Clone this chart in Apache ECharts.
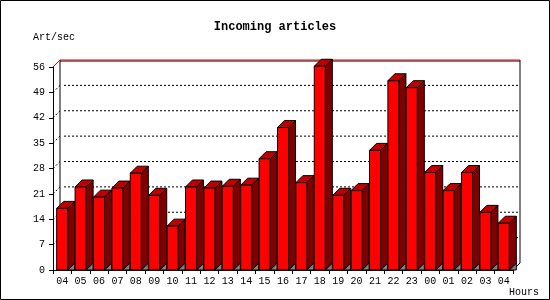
<!DOCTYPE html>
<html>
<head>
<meta charset="utf-8">
<script src="https://cdn.jsdelivr.net/npm/echarts@6/dist/echarts.min.js"></script>
<style>html,body{margin:0;padding:0;background:#fff}#c{width:550px;height:300px}</style>
</head>
<body>
<div id="c"></div>
<script>
const hours = ['04','05','06','07','08','09','10','11','12','13','14','15','16','17','18','19','20','21','22','23','00','01','02','03','04'];
const artPerSec = [17.0,22.9,20.1,22.6,26.7,20.6,12.1,22.9,22.6,23.1,23.4,30.7,39.3,24.1,56.2,20.6,21.9,33.0,52.2,50.3,26.9,21.9,26.9,15.9,12.9];
const yTicks = [0,7,14,21,28,35,42,49,56];

const D = 7; // 3D depth offset (px)
const FONT = 'Liberation Mono';

function wallItem(params, api) {
  const v = api.value(1);
  const band = api.size([1, 0])[0];
  const p0 = api.coord([0, v]);
  const pN = api.coord([hours.length - 1, v]);
  const xs = p0[0] - band / 2, xe = pN[0] + band / 2, y = p0[1];
  const top0 = api.coord([0, yTicks[yTicks.length - 1]]);
  const children = [];
  if (v > 0 && v < yTicks[yTicks.length - 1]) {
    children.push({type: 'line', shape: {x1: xs + D + 4, y1: y - D, x2: xe + D, y2: y - D},
      style: {stroke: '#000', lineWidth: 1, lineDash: [2, 2]}});
    children.push({type: 'line', shape: {x1: xs, y1: y, x2: xs + D, y2: y - D},
      style: {stroke: '#000', lineWidth: 1, lineDash: [2, 2]}});
  } else if (v > 0) {
    children.push({type: 'line', shape: {x1: xs + D, y1: y - D + 1, x2: xe + D, y2: y - D + 1},
      style: {stroke: '#000', lineWidth: 1}});
    children.push({type: 'line', shape: {x1: xs + D, y1: y - D, x2: xe + D, y2: y - D},
      style: {stroke: '#ff0000', lineWidth: 1}});
    children.push({type: 'line', shape: {x1: xs, y1: y, x2: xs + D, y2: y - D},
      style: {stroke: '#ff0000', lineWidth: 1}});
  } else {
    children.push({type: 'line', shape: {x1: xs + D, y1: top0[1] - D, x2: xs + D, y2: y - D},
      style: {stroke: '#000', lineWidth: 1}});
    children.push({type: 'line', shape: {x1: xe + D, y1: top0[1] - D, x2: xe + D, y2: y - D},
      style: {stroke: '#000', lineWidth: 1}});
    children.push({type: 'line', shape: {x1: xe, y1: y, x2: xe + D, y2: y - D},
      style: {stroke: '#000', lineWidth: 1}});
  }
  return {type: 'group', children};
}

function barItem(params, api) {
  const cat = api.value(0), v = api.value(1);
  const band = api.size([1, 0])[0];
  const bw = band * 0.6;
  const b = api.coord([cat, 0]);
  const t = api.coord([cat, v]);
  const x0 = b[0] - bw / 2, x1 = b[0] + bw / 2, y0 = b[1], y1 = t[1];
  const st = {lineWidth: 1, stroke: '#000'};
  return {type: 'group', children: [
    {type: 'polygon', shape: {points: [[x1, y0], [x1 + D, y0 - D], [x1 + D, y0]]},
      style: Object.assign({fill: '#808080'}, st)},
    {type: 'polygon', shape: {points: [[x1, y1], [x1 + D, y1 - D], [x1 + D, y0 - D], [x1, y0]]},
      style: Object.assign({fill: '#800000'}, st)},
    {type: 'polygon', shape: {points: [[x0, y1], [x0 + D, y1 - D], [x1 + D, y1 - D], [x1, y1]]},
      style: Object.assign({fill: '#c00000'}, st)},
    {type: 'rect', shape: {x: x0, y: y1, width: bw, height: y0 - y1},
      style: Object.assign({fill: '#ff0000'}, st)}
  ]};
}

const chart = echarts.init(document.getElementById('c'), null, {renderer: 'canvas'});
chart.setOption({
  animation: false,
  backgroundColor: '#fff',
  title: [
    {text: 'Incoming articles', left: 'center', top: 16,
      textStyle: {fontFamily: FONT, fontSize: 12, fontWeight: 'bold', color: '#000'}},
    {text: 'Art/sec', left: 28, top: 27,
      textStyle: {fontFamily: FONT, fontSize: 10, fontWeight: 'normal', color: '#000'}},
    {text: 'Hours', left: 504, top: 282,
      textStyle: {fontFamily: FONT, fontSize: 10, fontWeight: 'normal', color: '#000'}}
  ],
  graphic: [{type: 'rect', shape: {x: 0.5, y: 0.5, width: 549, height: 299},
    style: {fill: null, stroke: '#000', lineWidth: 1}, silent: true, z: 100}],
  grid: {left: 53, right: 37, top: 67, bottom: 30},
  xAxis: {
    type: 'category', data: hours, boundaryGap: true,
    axisLine: {lineStyle: {color: '#000', width: 1}},
    axisTick: {show: true, length: 4, alignWithLabel: false, lineStyle: {color: '#000'}},
    axisLabel: {fontFamily: FONT, fontSize: 10, color: '#000', margin: 6, interval: 0},
    splitLine: {show: false}
  },
  yAxis: {
    type: 'value', min: 0, max: 56, interval: 7,
    axisLine: {show: true, lineStyle: {color: '#000', width: 1}},
    axisTick: {show: true, length: 4, lineStyle: {color: '#000'}},
    axisLabel: {fontFamily: FONT, fontSize: 10, color: '#000', margin: 8},
    splitLine: {show: false}
  },
  series: [
    {type: 'custom', name: 'wall', renderItem: wallItem, clip: false, z: 1, silent: true,
      data: yTicks.map(v => [0, v])},
    {type: 'custom', name: 'Incoming articles', renderItem: barItem, clip: false, z: 5,
      data: artPerSec.map((v, i) => [i, v])}
  ]
});
</script>
</body>
</html>
